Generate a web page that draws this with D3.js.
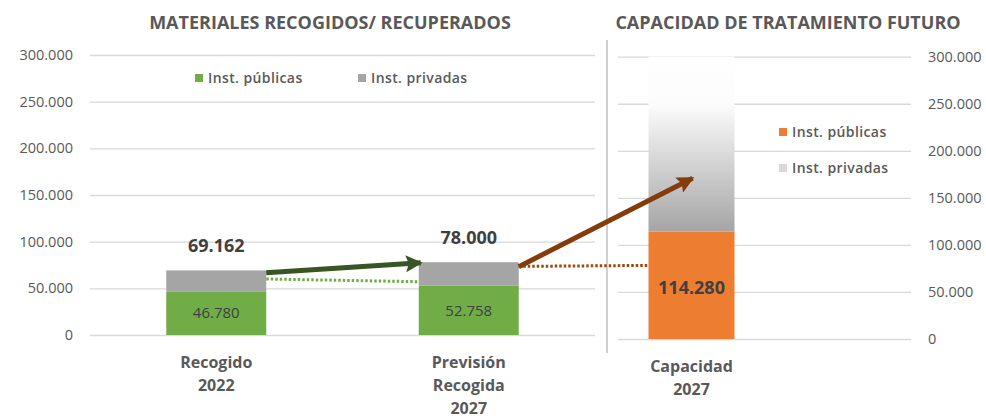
<!DOCTYPE html>
<html>
<head>
<meta charset="utf-8">
<script src="https://cdn.jsdelivr.net/npm/d3@7"></script>
<style>
  body { margin: 0; background: #fff; }
  svg { display: block; font-family: "Open Sans", sans-serif; }
</style>
</head>
<body>
<svg id="chart" width="986" height="419"></svg>
<script>
// datos
var leftCats = ["Recogido 2022", "Previsión Recogida 2027"];
var leftCatLines = [["Recogido", "2022"], ["Previsión", "Recogida", "2027"]];
var publicas = [46780, 52758];
var privadas = [22382, 25242];
var totales = [69162, 78000];

var capCats = ["Capacidad 2027"];
var capCatLines = [["Capacidad", "2027"]];
var capPublicas = [114280];
var capPrivadas = [185720];

var yTicks = [0, 50000, 100000, 150000, 200000, 250000, 300000];
var legendNames = ["Inst. públicas", "Inst. privadas"];

// flechas (valores en unidades del eje)
var greenArrow = { v0: 66700, v1: 77400 };
var greenDotted = { v0: 60000, v1: 57100 };
var brownArrow = { v0: 73200, v1: 170800 };
var brownDotted = { v0: 73500 };

var fmt = d3.formatLocale({ decimal: ",", thousands: ".", grouping: [3], currency: ["", "€"] }).format(",d");

var svg = d3.select("#chart");
var defs = svg.append("defs");

var grad = defs.append("linearGradient").attr("id", "privGrad")
  .attr("x1", 0).attr("y1", 0).attr("x2", 0).attr("y2", 1);
grad.append("stop").attr("offset", "0%").attr("stop-color", "#ffffff");
grad.append("stop").attr("offset", "28%").attr("stop-color", "#fbfbfb");
grad.append("stop").attr("offset", "100%").attr("stop-color", "#a5a5a5");

function arrowMarker(id, color) {
  defs.append("marker").attr("id", id)
    .attr("markerUnits", "userSpaceOnUse")
    .attr("viewBox", "0 0 17 17")
    .attr("refX", 15).attr("refY", 8.5)
    .attr("markerWidth", 17).attr("markerHeight", 17)
    .attr("orient", "auto")
    .append("path").attr("d", "M0,0 L17,8.5 L0,17 L3,8.5 Z").attr("fill", color);
}
arrowMarker("headGreen", "#375623");
arrowMarker("headBrown", "#843c0c");

// ---- escalas ----
var xL = d3.scaleBand().domain(leftCats).range([90, 595]).paddingInner(0.604).paddingOuter(0.302);
var yL = d3.scaleLinear().domain([0, 300000]).range([335, 55]);

var xR = d3.scaleBand().domain(capCats).range([618, 765]).paddingInner(0.415).paddingOuter(0.2075);
var yR = d3.scaleLinear().domain([0, 300000]).range([339, 56.7]);

// ---- ejes ----
var axL = svg.append("g").attr("transform", "translate(90,0)")
  .call(d3.axisLeft(yL).tickValues(yTicks).tickFormat(fmt).tickSize(-505).tickPadding(17));
var axR = svg.append("g").attr("transform", "translate(911,0)")
  .call(d3.axisRight(yR).tickValues(yTicks).tickFormat(fmt).tickSize(-293).tickPadding(17));
[axL, axR].forEach(function (ax) {
  ax.select(".domain").remove();
  ax.selectAll("line").attr("stroke", "#d9d9d9").attr("stroke-width", 1.3);
  ax.selectAll("text").attr("fill", "#595959").style("font-size", "14.5px")
    .style("font-family", "'Open Sans', sans-serif");
});

// separador
svg.append("line").attr("x1", 607).attr("x2", 607).attr("y1", 40).attr("y2", 353)
  .attr("stroke", "#bfbfbf").attr("stroke-width", 1.5);

// ---- barras izquierda ----
var gL = svg.append("g");
gL.selectAll(".pub").data(leftCats).enter().append("rect")
  .attr("x", function (d) { return xL(d); })
  .attr("width", xL.bandwidth())
  .attr("y", function (d, i) { return yL(publicas[i]); })
  .attr("height", function (d, i) { return yL(0) - yL(publicas[i]); })
  .attr("fill", "#70ad47");
gL.selectAll(".priv").data(leftCats).enter().append("rect")
  .attr("x", function (d) { return xL(d); })
  .attr("width", xL.bandwidth())
  .attr("y", function (d, i) { return yL(publicas[i] + privadas[i]); })
  .attr("height", function (d, i) { return yL(publicas[i]) - yL(publicas[i] + privadas[i]); })
  .attr("fill", "#a5a5a5");

gL.selectAll(".pubLabel").data(leftCats).enter().append("text")
  .attr("x", function (d) { return xL(d) + xL.bandwidth() / 2; })
  .attr("y", function (d, i) { return (yL(0) + yL(publicas[i])) / 2; })
  .attr("dy", "0.35em").attr("text-anchor", "middle")
  .attr("fill", "#404040").style("font-size", "15px")
  .text(function (d, i) { return fmt(publicas[i]); });

gL.selectAll(".totLabel").data(leftCats).enter().append("text")
  .attr("x", function (d) { return xL(d) + xL.bandwidth() / 2; })
  .attr("y", function (d, i) { return yL(totales[i]) - 25; })
  .attr("dy", "0.35em").attr("text-anchor", "middle")
  .attr("fill", "#404040").style("font-size", "18px").style("font-weight", "bold")
  .text(function (d, i) { return fmt(totales[i]); });

gL.selectAll(".cat").data(leftCats).enter().append("text")
  .attr("x", function (d) { return xL(d) + xL.bandwidth() / 2; })
  .attr("y", yL(0) + 27)
  .attr("text-anchor", "middle").attr("fill", "#595959")
  .style("font-size", "16px").style("font-weight", "bold")
  .each(function (d, i) {
    var t = d3.select(this);
    leftCatLines[i].forEach(function (line, j) {
      t.append("tspan").attr("x", xL(d) + xL.bandwidth() / 2)
        .attr("dy", j === 0 ? "0.35em" : "23px").text(line);
    });
  });

// ---- barra derecha ----
var gR = svg.append("g");
gR.selectAll(".pub").data(capCats).enter().append("rect")
  .attr("x", function (d) { return xR(d); })
  .attr("width", xR.bandwidth())
  .attr("y", function (d, i) { return yR(capPublicas[i]); })
  .attr("height", function (d, i) { return yR(0) - yR(capPublicas[i]); })
  .attr("fill", "#ed7d31");
gR.selectAll(".priv").data(capCats).enter().append("rect")
  .attr("x", function (d) { return xR(d); })
  .attr("width", xR.bandwidth())
  .attr("y", function (d, i) { return yR(capPublicas[i] + capPrivadas[i]); })
  .attr("height", function (d, i) { return yR(capPublicas[i]) - yR(capPublicas[i] + capPrivadas[i]); })
  .attr("fill", "url(#privGrad)");
gR.selectAll(".pubLabel").data(capCats).enter().append("text")
  .attr("x", function (d) { return xR(d) + xR.bandwidth() / 2; })
  .attr("y", function (d, i) { return (yR(0) + yR(capPublicas[i])) / 2 + 2; })
  .attr("dy", "0.35em").attr("text-anchor", "middle")
  .attr("fill", "#404040").style("font-size", "18px").style("font-weight", "bold")
  .text(function (d, i) { return fmt(capPublicas[i]); });
gR.selectAll(".cat").data(capCats).enter().append("text")
  .attr("x", function (d) { return xR(d) + xR.bandwidth() / 2; })
  .attr("y", yR(0) + 27)
  .attr("text-anchor", "middle").attr("fill", "#595959")
  .style("font-size", "16px").style("font-weight", "bold")
  .each(function (d, i) {
    var t = d3.select(this);
    capCatLines[i].forEach(function (line, j) {
      t.append("tspan").attr("x", xR(d) + xR.bandwidth() / 2)
        .attr("dy", j === 0 ? "0.35em" : "23px").text(line);
    });
  });

// ---- flechas ----
var b0 = leftCats[0], b1 = leftCats[1], c0 = capCats[0];
svg.append("line")
  .attr("x1", xL(b0) + xL.bandwidth()).attr("y1", yL(greenDotted.v0))
  .attr("x2", xL(b1)).attr("y2", yL(greenDotted.v1))
  .attr("stroke", "#70ad47").attr("stroke-width", 3).attr("stroke-dasharray", "2.5 2");
svg.append("line")
  .attr("x1", xL(b0) + xL.bandwidth()).attr("y1", yL(greenArrow.v0))
  .attr("x2", xL(b1) + 2).attr("y2", yL(greenArrow.v1))
  .attr("stroke", "#375623").attr("stroke-width", 5).attr("marker-end", "url(#headGreen)");
svg.append("line")
  .attr("x1", xL(b1) + xL.bandwidth()).attr("y1", yL(brownDotted.v0))
  .attr("x2", xR(c0) - 1).attr("y2", yL(brownDotted.v0) - 1)
  .attr("stroke", "#9e480e").attr("stroke-width", 3).attr("stroke-dasharray", "2.5 2");
svg.append("line")
  .attr("x1", xL(b1) + xL.bandwidth()).attr("y1", yL(brownArrow.v0))
  .attr("x2", xR(c0) + xR.bandwidth() / 2 + 1).attr("y2", yR(brownArrow.v1))
  .attr("stroke", "#843c0c").attr("stroke-width", 5).attr("marker-end", "url(#headBrown)");

// ---- títulos ----
svg.append("text").attr("x", 330).attr("y", 23).attr("dy", "0.35em")
  .attr("text-anchor", "middle").attr("fill", "#595959")
  .style("font-size", "18px").style("font-weight", "bold")
  .text("MATERIALES RECOGIDOS/ RECUPERADOS");
svg.append("text").attr("x", 788).attr("y", 23).attr("dy", "0.35em")
  .attr("text-anchor", "middle").attr("fill", "#595959")
  .style("font-size", "18px").style("font-weight", "bold")
  .text("CAPACIDAD DE TRATAMIENTO FUTURO");

// ---- leyendas ----
var legL = [{ x: 195, y: 78, c: "#70ad47" }, { x: 358, y: 78, c: "#a5a5a5" }];
var legR = [{ x: 779, y: 132, c: "#ed7d31" }, { x: 779, y: 168, c: "#d9d9d9" }];
[legL, legR].forEach(function (leg) {
  var g = svg.append("g").selectAll("g").data(leg).enter().append("g");
  g.append("rect").attr("x", function (d) { return d.x; }).attr("y", function (d) { return d.y - 4; })
    .attr("width", 8).attr("height", 8).attr("fill", function (d) { return d.c; });
  g.append("text").attr("x", function (d) { return d.x + 13; }).attr("y", function (d) { return d.y; })
    .attr("dy", "0.35em").attr("fill", "#595959")
    .style("font-size", "14px").style("font-weight", 600).style("letter-spacing", "0.4px")
    .text(function (d, i) { return legendNames[i]; });
});
</script>
</body>
</html>
